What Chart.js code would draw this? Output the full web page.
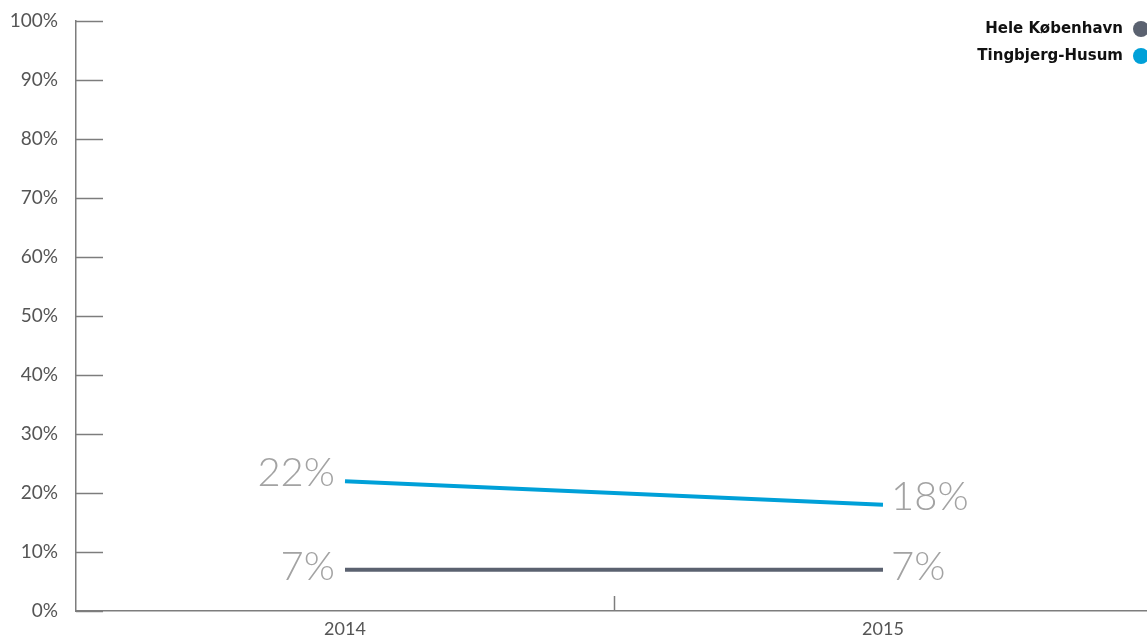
<!DOCTYPE html>
<html>
<head>
<meta charset="utf-8">
<script src="https://cdn.jsdelivr.net/npm/chart.js@4/dist/chart.umd.min.js"></script>
<style>
  html, body { margin: 0; padding: 0; background: #fff; overflow: hidden; }
  #wrap { position: relative; width: 1152px; height: 637px; }
</style>
</head>
<body>
<div id="wrap"><canvas id="chart"></canvas></div>
<script>
const years = ['2014', '2015'];
const seriesNames = ['Hele København', 'Tingbjerg-Husum'];
const heleKbh = [7, 7];
const tingbjerg = [22, 18];
const yTicks = [0, 10, 20, 30, 40, 50, 60, 70, 80, 90, 100];

const axisGrey = '#7d7d7d';
const lineColors = ['#5b6270', '#00a0d8'];

// short tick marks pointing into the plot, like the original
const tickMarks = {
    id: 'tickMarks',
    afterDraw(chart) {
        const ctx = chart.ctx;
        const y = chart.scales.y;
        const x = chart.scales.x;
        const area = chart.chartArea;
        ctx.save();
        ctx.strokeStyle = axisGrey;
        ctx.lineWidth = 1.5;
        yTicks.forEach(v => {
            const py = Math.round(y.getPixelForValue(v)) + 0.5;
            ctx.beginPath();
            ctx.moveTo(area.left, py);
            ctx.lineTo(area.left + 27, py);
            ctx.stroke();
        });
        // boundary tick between the two years
        const mid = (x.getPixelForValue(0) + x.getPixelForValue(1)) / 2;
        ctx.beginPath();
        ctx.moveTo(Math.round(mid) + 0.5, area.bottom);
        ctx.lineTo(Math.round(mid) + 0.5, area.bottom - 15);
        ctx.stroke();
        ctx.restore();
    }
};

// value labels beside the line ends
const endLabels = {
    id: 'endLabels',
    afterDatasetsDraw(chart) {
        const ctx = chart.ctx;
        ctx.save();
        ctx.font = '300 40px Lato, "Open Sans", sans-serif';
        ctx.fillStyle = '#a3a3a3';
        ctx.textBaseline = 'middle';
        chart.data.datasets.forEach((ds, i) => {
            const meta = chart.getDatasetMeta(i);
            const first = meta.data[0];
            const last = meta.data[meta.data.length - 1];
            const lift = i === 1 ? -8 : -3;
            ctx.textAlign = 'right';
            ctx.fillText(ds.data[0] + '%', first.x - 10, first.y + lift);
            ctx.textAlign = 'left';
            ctx.fillText(ds.data[ds.data.length - 1] + '%', last.x + 8, last.y + lift);
        });
        ctx.restore();
    }
};

// legend in the top right corner, text left of the dot
const cornerLegend = {
    id: 'cornerLegend',
    afterDraw(chart) {
        const ctx = chart.ctx;
        ctx.save();
        ctx.font = 'bold 15px "DejaVu Sans", sans-serif';
        ctx.textAlign = 'right';
        ctx.textBaseline = 'middle';
        seriesNames.forEach((name, i) => {
            const cy = 29 + i * 27;
            ctx.fillStyle = '#111';
            ctx.fillText(name, 1123, cy);
            ctx.beginPath();
            ctx.fillStyle = lineColors[i];
            ctx.arc(1141, cy, 8, 0, Math.PI * 2);
            ctx.fill();
        });
        ctx.restore();
    }
};

new Chart(document.getElementById('chart').getContext('2d'), {
    type: 'line',
    data: {
        labels: years,
        datasets: [
            {
                label: seriesNames[0],
                data: heleKbh,
                borderColor: lineColors[0],
                borderWidth: 4,
                pointRadius: 0,
                tension: 0,
            },
            {
                label: seriesNames[1],
                data: tingbjerg,
                borderColor: lineColors[1],
                borderWidth: 4,
                pointRadius: 0,
                tension: 0,
            },
        ],
    },
    options: {
        responsive: true,
        maintainAspectRatio: false,
        animation: false,
        layout: { padding: { top: 21, right: 0, left: 0, bottom: 0 } },
        plugins: {
            legend: { display: false },
            tooltip: { enabled: false },
        },
        scales: {
            x: {
                offset: true,
                grid: { display: false, drawTicks: false },
                border: { display: true, color: axisGrey, width: 1.5 },
                ticks: {
                    color: '#555',
                    font: { family: 'Lato, sans-serif', size: 18 },
                    padding: 7,
                },
                afterFit(scale) {
                    scale.height = 26;
                    scale.paddingLeft = 0;
                    scale.paddingRight = 0;
                },
            },
            y: {
                min: 0,
                max: 100,
                afterBuildTicks(scale) { scale.ticks = yTicks.map(v => ({ value: v })); },
                grid: { display: false, drawTicks: false },
                border: { display: true, color: axisGrey, width: 1.5 },
                ticks: {
                    color: '#555',
                    font: { family: 'Lato, sans-serif', size: 19 },
                    padding: 18,
                    callback: v => v + '%',
                },
                afterFit(scale) {
                    scale.width = 76;
                    scale.paddingTop = 0;
                    scale.paddingBottom = 0;
                },
            },
        },
    },
    plugins: [tickMarks, endLabels, cornerLegend],
});
</script>
</body>
</html>
